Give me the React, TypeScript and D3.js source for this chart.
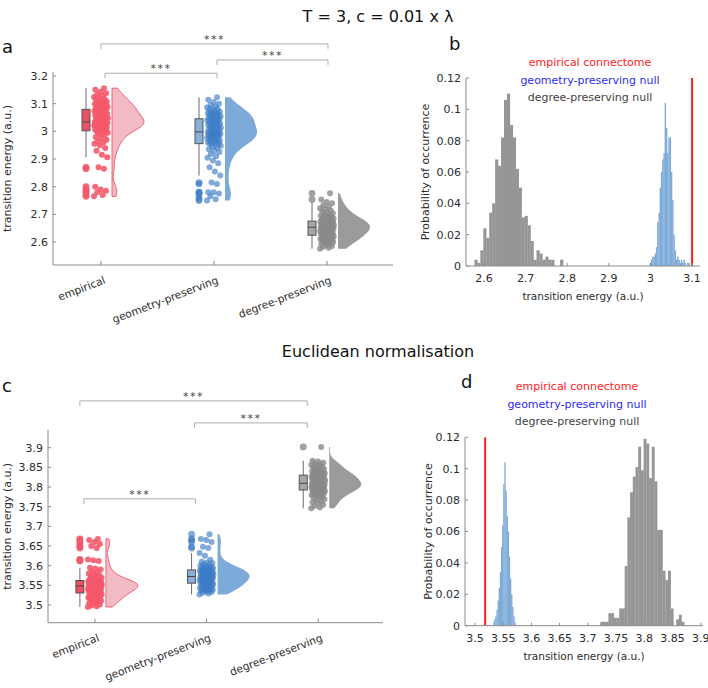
import React from 'react';
import * as d3 from 'd3';

const FONT = '"DejaVu Sans", Verdana, sans-serif';
const CATEGORIES = ['empirical', 'geometry-preserving', 'degree-preserving'];
const LEGEND = ['empirical connectome', 'geometry-preserving null', 'degree-preserving null'];

// panel a, T = 3, c = 0.01 x lambda
const EMPIRICAL_A = [
  2.765, 2.77, 2.78, 2.785, 2.79, 2.8, 2.865, 2.87, 2.906, 2.915, 2.93, 2.94, 2.95, 2.955, 2.96, 2.965,
  2.97, 2.975, 2.98, 2.985, 2.99, 2.995, 2.998, 2.999,
  3.003, 3.005, 3.007, 3.009, 3.011, 3.013, 3.015, 3.016, 3.018, 3.019, 3.021, 3.022, 3.024, 3.025,
  3.026, 3.027, 3.028, 3.029, 3.03, 3.031, 3.032, 3.032, 3.033, 3.033,
  3.035, 3.037, 3.039, 3.041, 3.043, 3.044, 3.046, 3.048, 3.05, 3.052, 3.054, 3.055, 3.057, 3.059,
  3.061, 3.063, 3.065, 3.067, 3.069, 3.071, 3.073, 3.075, 3.077, 3.079,
  3.081, 3.083, 3.085, 3.087, 3.089, 3.091, 3.093, 3.095, 3.097, 3.099, 3.101, 3.104, 3.107, 3.11,
  3.113, 3.116, 3.12, 3.124, 3.128, 3.133, 3.138, 3.143, 3.15, 3.156,
];
const GEOMETRY_A = [
  2.75, 2.755, 2.765, 2.775, 2.78, 2.78, 2.81, 2.815, 2.84, 2.855, 2.87, 2.885, 2.895, 2.905, 2.91, 2.918,
  2.925, 2.93, 2.935, 2.94, 2.944, 2.948, 2.951, 2.954,
  2.956, 2.958, 2.96, 2.962, 2.964, 2.966, 2.968, 2.97, 2.972, 2.974, 2.976, 2.978, 2.98, 2.982,
  2.984, 2.986, 2.988, 2.989, 2.99, 2.991, 2.993, 2.994, 2.996, 2.997,
  2.999, 3.001, 3.003, 3.005, 3.007, 3.009, 3.011, 3.013, 3.015, 3.017, 3.019, 3.021, 3.023, 3.025,
  3.027, 3.029, 3.031, 3.033, 3.035, 3.037, 3.039, 3.041, 3.043, 3.045,
  3.047, 3.049, 3.051, 3.053, 3.055, 3.057, 3.059, 3.061, 3.063, 3.065, 3.067, 3.069, 3.071, 3.074,
  3.077, 3.08, 3.083, 3.086, 3.09, 3.095, 3.1, 3.106, 3.114, 3.123,
];
const DEGREE_A = [
  2.576, 2.579, 2.583, 2.586, 2.589, 2.592, 2.595, 2.598, 2.6, 2.602, 2.604, 2.606, 2.608, 2.61, 2.611,
  2.613, 2.614, 2.616, 2.617, 2.618, 2.619, 2.62, 2.622, 2.623,
  2.625, 2.626, 2.628, 2.629, 2.631, 2.632, 2.634, 2.635, 2.637, 2.638, 2.639, 2.641, 2.642, 2.643,
  2.644, 2.645, 2.646, 2.647, 2.648, 2.649, 2.65, 2.651, 2.652, 2.653,
  2.654, 2.655, 2.656, 2.657, 2.658, 2.659, 2.66, 2.661, 2.662, 2.663, 2.664, 2.665, 2.666, 2.667,
  2.668, 2.669, 2.67, 2.671, 2.672, 2.672, 2.673, 2.674, 2.674, 2.675,
  2.677, 2.679, 2.681, 2.683, 2.685, 2.687, 2.689, 2.691, 2.693, 2.695, 2.698, 2.701, 2.704, 2.707,
  2.71, 2.714, 2.718, 2.722, 2.727, 2.733, 2.74, 2.745, 2.754, 2.776,
];
const TICKS_A = [2.6, 2.7, 2.8, 2.9, 3, 3.1, 3.2];

// panel c, Euclidean normalisation
const EMPIRICAL_C = [
  3.495, 3.497, 3.499, 3.501, 3.503, 3.505, 3.507, 3.509, 3.511, 3.513, 3.514, 3.516, 3.517, 3.519,
  3.52, 3.521, 3.522, 3.523, 3.524, 3.525, 3.526, 3.527, 3.528, 3.529,
  3.531, 3.532, 3.533, 3.534, 3.535, 3.536, 3.537, 3.537, 3.538, 3.539, 3.54, 3.54, 3.541, 3.542,
  3.542, 3.543, 3.544, 3.544, 3.545, 3.546, 3.546, 3.547, 3.547, 3.548,
  3.549, 3.549, 3.55, 3.55, 3.551, 3.552, 3.552, 3.553, 3.553, 3.554, 3.555, 3.555, 3.556, 3.556,
  3.557, 3.558, 3.558, 3.559, 3.559, 3.56, 3.56, 3.561, 3.561, 3.562,
  3.563, 3.564, 3.565, 3.567, 3.569, 3.571, 3.573, 3.575, 3.577, 3.58, 3.583, 3.586, 3.59, 3.593,
  3.595, 3.612, 3.614, 3.616, 3.645, 3.65, 3.655, 3.66, 3.665, 3.668,
];
const GEOMETRY_C = [
  3.527, 3.529, 3.531, 3.533, 3.535, 3.536, 3.537, 3.538, 3.539, 3.54, 3.541, 3.542, 3.543, 3.544,
  3.545, 3.546, 3.547, 3.548, 3.549, 3.55, 3.551, 3.552, 3.553, 3.554,
  3.556, 3.556, 3.557, 3.558, 3.559, 3.559, 3.56, 3.561, 3.562, 3.562, 3.563, 3.564, 3.565, 3.565,
  3.566, 3.567, 3.567, 3.568, 3.569, 3.569, 3.57, 3.571, 3.571, 3.572,
  3.573, 3.573, 3.574, 3.575, 3.576, 3.576, 3.577, 3.578, 3.579, 3.579, 3.58, 3.581, 3.582, 3.582,
  3.583, 3.584, 3.585, 3.585, 3.586, 3.587, 3.587, 3.588, 3.588, 3.589,
  3.59, 3.591, 3.592, 3.593, 3.594, 3.595, 3.596, 3.597, 3.598, 3.6, 3.602, 3.604, 3.606, 3.608,
  3.61, 3.615, 3.625, 3.632, 3.645, 3.648, 3.66, 3.665, 3.668, 3.68,
];
const DEGREE_C = [
  3.746, 3.748, 3.752, 3.755, 3.758, 3.761, 3.764, 3.767, 3.769, 3.771, 3.773, 3.775, 3.777, 3.779,
  3.78, 3.782, 3.783, 3.785, 3.786, 3.787, 3.788, 3.789, 3.79, 3.791,
  3.793, 3.793, 3.794, 3.795, 3.796, 3.796, 3.797, 3.798, 3.799, 3.799, 3.8, 3.801, 3.802, 3.802,
  3.803, 3.804, 3.804, 3.805, 3.806, 3.806, 3.807, 3.808, 3.808, 3.809,
  3.81, 3.811, 3.812, 3.812, 3.813, 3.814, 3.815, 3.816, 3.817, 3.817, 3.818, 3.819, 3.82, 3.821,
  3.822, 3.823, 3.824, 3.825, 3.826, 3.827, 3.827, 3.828, 3.829, 3.83,
  3.831, 3.832, 3.833, 3.834, 3.835, 3.836, 3.837, 3.838, 3.839, 3.84, 3.842, 3.844, 3.846, 3.848,
  3.85, 3.852, 3.854, 3.856, 3.858, 3.86, 3.862, 3.865, 3.867, 3.902,
];
const TICKS_C = [3.5, 3.55, 3.6, 3.65, 3.7, 3.75, 3.8, 3.85, 3.9];

// panel b histograms (probability per bin)
const DEG_HIST_B_START = 2.577;
const DEG_HIST_B_BIN = 0.0071;
const DEG_HIST_B = [
  0.004, 0.002, 0.01, 0.024, 0.018, 0.034, 0.04, 0.068, 0.064, 0.082, 0.106, 0.11, 0.09, 0.082, 0.062,
  0.05, 0.031, 0.032, 0.026, 0.016, 0.004, 0.01, 0.008, 0.004, 0.006, 0.004, 0.004, 0, 0, 0.004,
];
const GEO_HIST_B_START = 2.998;
const GEO_HIST_B_BIN = 0.003;
const GEO_HIST_B = [
  0.002, 0.004, 0.006, 0.006, 0.008, 0.012, 0.028, 0.034, 0.05, 0.06, 0.068, 0.072, 0.104, 0.088, 0.072,
  0.082, 0.082, 0.06, 0.042, 0.02, 0.01, 0.004, 0.006, 0.004, 0.002, 0.004, 0.002, 0.004, 0.002, 0,
  0.002, 0.002,
];
const EMPIRICAL_B = 3.1;
const TICKS_B = [2.6, 2.7, 2.8, 2.9, 3, 3.1];

// panel d histograms
const DEG_HIST_D_START = 3.722;
const DEG_HIST_D_BIN = 0.0048;
const DEG_HIST_D = [
  0.0025, 0.0025, 0.0025, 0.008, 0.008, 0.005, 0.005, 0.011, 0.011, 0.038, 0.069, 0.085, 0.095, 0.101,
  0.114, 0.099, 0.119, 0.116, 0.094, 0.114, 0.092, 0.061, 0.061, 0.035, 0.029, 0.035, 0.011, 0, 0.004,
  0.007, 0.0025,
];
const GEO_HIST_D_START = 3.532;
const GEO_HIST_D_BIN = 0.002;
const GEO_HIST_D = [
  0.002, 0.004, 0.006, 0.01, 0.016, 0.024, 0.034, 0.05, 0.064, 0.09, 0.104, 0.086, 0.07, 0.06, 0.044,
  0.03, 0.02, 0.012, 0.006, 0.002,
];
const EMPIRICAL_D = 3.518;
const TICKS_D = [3.5, 3.55, 3.6, 3.65, 3.7, 3.75, 3.8, 3.85, 3.9];
const PROB_TICKS = [0, 0.02, 0.04, 0.06, 0.08, 0.1, 0.12];

const STYLES = [
  { point: '#f4596a', pointOpacity: 0.9, box: '#ec5062', violin: '#f2bac4', violinStroke: '#f45c6c' },
  { point: '#3d7cc6', pointOpacity: 0.65, box: '#88afdc', violin: '#7eaad9', violinStroke: 'none' },
  { point: '#8a8a8a', pointOpacity: 0.8, box: '#a6a6a6', violin: '#9b9b9b', violinStroke: 'none' },
];
const AXIS = '#8c8c8c';
const TEXT = '#2b2b2b';

const fmt = (v: number) => String(+v.toFixed(3));
const jitter = (i: number) => ((i * 0.6180339887) % 1) - 0.5;

function boxStats(vals: number[]) {
  const s = [...vals].sort(d3.ascending);
  const q1 = d3.quantile(s, 0.25) as number;
  const med = d3.quantile(s, 0.5) as number;
  const q3 = d3.quantile(s, 0.75) as number;
  const iqr = q3 - q1;
  const lo = q1 - 1.5 * iqr;
  const hi = q3 + 1.5 * iqr;
  const inside = s.filter((v) => v >= lo && v <= hi);
  return {
    q1, med, q3,
    wLo: d3.min(inside) as number,
    wHi: d3.max(inside) as number,
    outliers: s.filter((v) => v < lo || v > hi),
  };
}

function density(vals: number[], bw: number, n = 80): [number, number][] {
  const [lo, hi] = d3.extent(vals) as [number, number];
  return d3.range(n + 1).map((i) => {
    const t = lo + ((hi - lo) * i) / n;
    return [t, d3.mean(vals, (v) => Math.exp(-0.5 * ((t - v) / bw) ** 2)) as number];
  });
}

type Bracket = { a: number; b: number; offA: number; offB: number; level: number };

function Raincloud(props: {
  groups: number[][];
  ticks: number[];
  yDomain: [number, number];
  frame: { left: number; right: number; top: number; bottom: number };
  xlim: [number, number];
  brackets: Bracket[];
  bw: number;
  letter: string;
  letterPos: [number, number];
  ylabelX: number;
}) {
  const { groups, ticks, yDomain, frame, xlim, brackets, bw, letter, letterPos, ylabelX } = props;
  const x = d3.scaleLinear().domain(xlim).range([frame.left, frame.right]);
  const y = d3.scaleLinear().domain(yDomain).range([frame.bottom, frame.top]);
  const violinW = 32;

  return (
    <g fontFamily={FONT}>
      <text x={letterPos[0]} y={letterPos[1]} fontSize={18} fill="#111">{letter}</text>
      {groups.map((vals, gi) => {
        const cx = x(gi);
        const st = STYLES[gi];
        const dens = density(vals, bw);
        const maxD = d3.max(dens, (d) => d[1]) as number;
        const x0 = cx + 11;
        const area = d3.area<[number, number]>()
          .y((d) => y(d[0]))
          .x0(x0)
          .x1((d) => x0 + (d[1] / maxD) * violinW)
          .curve(d3.curveBasis);
        const b = boxStats(vals);
        const bx = cx - 15;
        return (
          <g key={gi}>
            <path d={area(dens) + 'Z'} fill={st.violin} stroke={st.violinStroke} strokeWidth={1} />
            {vals.map((v, i) => (
              <circle key={i} cx={cx + jitter(i) * 14} cy={y(v)} r={3} fill={st.point} fillOpacity={st.pointOpacity} />
            ))}
            <line x1={bx} x2={bx} y1={y(b.wLo)} y2={y(b.wHi)} stroke="#6b6b6b" strokeWidth={1} />
            <rect x={bx - 4} width={8} y={y(b.q3)} height={y(b.q1) - y(b.q3)} fill={st.box} stroke="#555" strokeWidth={1} />
            <line x1={bx - 4} x2={bx + 4} y1={y(b.med)} y2={y(b.med)} stroke="#444" strokeWidth={1} />
            {b.outliers.map((v, i) => (
              <circle key={'o' + i} cx={bx} cy={y(v)} r={3.4} fill={st.point} fillOpacity={st.pointOpacity} />
            ))}
          </g>
        );
      })}
      {/* axes */}
      <line x1={frame.left} x2={frame.left} y1={frame.top} y2={frame.bottom} stroke={AXIS} />
      <line x1={frame.left} x2={frame.right} y1={frame.bottom} y2={frame.bottom} stroke={AXIS} />
      {ticks.map((t) => (
        <g key={t}>
          <line x1={frame.left} x2={frame.left + 3} y1={y(t)} y2={y(t)} stroke={AXIS} />
          <text x={frame.left - 5} y={y(t)} dy="0.35em" textAnchor="end" fontSize={11} fill={TEXT}>{fmt(t)}</text>
        </g>
      ))}
      {CATEGORIES.map((c, i) => (
        <g key={c}>
          <line x1={x(i)} x2={x(i)} y1={frame.bottom} y2={frame.bottom - 4} stroke={AXIS} />
          <text transform={`translate(${x(i) + 5},${frame.bottom + 18}) rotate(-21)`} textAnchor="end" fontSize={10.7} fill={TEXT}>{c}</text>
        </g>
      ))}
      <text transform={`translate(${ylabelX},${(frame.top + frame.bottom) / 2}) rotate(-90)`} textAnchor="middle" fontSize={11} fill={TEXT}>
        transition energy (a.u.)
      </text>
      {brackets.map((br, i) => {
        const xa = x(br.a) + br.offA;
        const xb = x(br.b) + br.offB;
        const yy = y(br.level);
        return (
          <g key={i}>
            <path d={`M${xa},${yy + 5}V${yy}H${xb}V${yy + 5}`} fill="none" stroke="#adadad" strokeWidth={1} />
            <text x={(xa + xb) / 2} y={yy - 1} textAnchor="middle" fontSize={11} letterSpacing={1.5} fill="#444">***</text>
          </g>
        );
      })}
    </g>
  );
}

type Hist = { start: number; bin: number; values: number[]; color: string };

function HistPanel(props: {
  frame: { left: number; right: number; top: number; bottom: number };
  xDomain: [number, number];
  xTicks: number[];
  series: Hist[];
  empirical: number;
  legendX: number;
  legendY: number;
  letter: string;
  letterPos: [number, number];
  ylabelX: number;
}) {
  const { frame, xDomain, xTicks, series, empirical, legendX, legendY, letter, letterPos, ylabelX } = props;
  const x = d3.scaleLinear().domain(xDomain).range([frame.left, frame.right]);
  const y = d3.scaleLinear().domain([0, 0.12]).range([frame.bottom, frame.top]);
  const legendColors = ['#ff1a1a', '#2b2bf5', '#3f3f3f'];
  return (
    <g fontFamily={FONT}>
      <text x={letterPos[0]} y={letterPos[1]} fontSize={18} fill="#111">{letter}</text>
      {LEGEND.map((l, i) => (
        <text key={l} x={legendX} y={legendY + i * 17.5} textAnchor="middle" fontSize={11} fill={legendColors[i]}>{l}</text>
      ))}
      {series.map((s, si) => (
        <g key={si}>
          {s.values.map((v, i) => {
            const xa = x(s.start + i * s.bin);
            const xb = x(s.start + (i + 1) * s.bin);
            return <rect key={i} x={xa} width={xb - xa + 0.2} y={y(v)} height={y(0) - y(v)} fill={s.color} />;
          })}
        </g>
      ))}
      <line x1={x(empirical)} x2={x(empirical)} y1={y(0.12)} y2={y(0)} stroke="#ff1f1f" strokeWidth={2} />
      <line x1={frame.left} x2={frame.left} y1={frame.top} y2={frame.bottom} stroke={AXIS} />
      <line x1={frame.left} x2={frame.right} y1={frame.bottom} y2={frame.bottom} stroke={AXIS} />
      {PROB_TICKS.map((t) => (
        <g key={t}>
          <line x1={frame.left} x2={frame.left + 3} y1={y(t)} y2={y(t)} stroke={AXIS} />
          <text x={frame.left - 5} y={y(t)} dy="0.35em" textAnchor="end" fontSize={11} fill={TEXT}>{fmt(t)}</text>
        </g>
      ))}
      {xTicks.map((t) => (
        <g key={t}>
          <line x1={x(t)} x2={x(t)} y1={frame.bottom} y2={frame.bottom - 3} stroke={AXIS} />
          <text x={x(t)} y={frame.bottom + 16} textAnchor="middle" fontSize={11} fill={TEXT}>{fmt(t)}</text>
        </g>
      ))}
      <text x={(frame.left + frame.right) / 2} y={frame.bottom + 34} textAnchor="middle" fontSize={10.5} fill={TEXT}>
        transition energy (a.u.)
      </text>
      <text transform={`translate(${ylabelX},${(frame.top + frame.bottom) / 2}) rotate(-90)`} textAnchor="middle" fontSize={11} fill={TEXT}>
        Probability of occurrence
      </text>
    </g>
  );
}

export default function App() {
  return (
    <svg width={708} height={688} style={{ position: 'absolute', left: 0, top: 0, background: '#fff' }}>
      <text x={378} y={22} textAnchor="middle" fontFamily={FONT} fontSize={16} fill="#111">T = 3, c = 0.01 x λ</text>
      <text x={378} y={357} textAnchor="middle" fontFamily={FONT} fontSize={16} fill="#111">Euclidean normalisation</text>

      <Raincloud
        groups={[EMPIRICAL_A, GEOMETRY_A, DEGREE_A]}
        ticks={TICKS_A}
        yDomain={[2.5169, 3.2145]}
        frame={{ left: 53, right: 393, top: 72, bottom: 265 }}
        xlim={[-0.425, 2.584]}
        bw={0.022}
        brackets={[
          { a: 0, b: 2, offA: 0, offB: 1, level: 3.316 },
          { a: 1, b: 2, offA: 3, offB: 1, level: 3.258 },
          { a: 0, b: 1, offA: 4, offB: 3, level: 3.21 },
        ]}
        letter="a"
        letterPos={[2, 53]}
        ylabelX={11}
      />
      <Raincloud
        groups={[EMPIRICAL_C, GEOMETRY_C, DEGREE_C]}
        ticks={TICKS_C}
        yDomain={[3.455, 3.945]}
        frame={{ left: 48, right: 383, top: 430, bottom: 622.7 }}
        xlim={[-0.42, 2.58]}
        bw={0.011}
        brackets={[
          { a: 0, b: 2, offA: -15, offB: -11, level: 4.019 },
          { a: 1, b: 2, offA: -12, offB: -11, level: 3.963 },
          { a: 0, b: 1, offA: -11, offB: -11, level: 3.77 },
        ]}
        letter="c"
        letterPos={[2, 392]}
        ylabelX={11}
      />
      <HistPanel
        frame={{ left: 466, right: 700, top: 78, bottom: 266 }}
        xDomain={[2.5567, 3.119]}
        xTicks={TICKS_B}
        series={[
          { start: DEG_HIST_B_START, bin: DEG_HIST_B_BIN, values: DEG_HIST_B, color: '#969696' },
          { start: GEO_HIST_B_START, bin: GEO_HIST_B_BIN, values: GEO_HIST_B, color: '#7eabd8' },
        ]}
        empirical={EMPIRICAL_B}
        legendX={590}
        legendY={66}
        letter="b"
        letterPos={[449, 50]}
        ylabelX={429}
      />
      <HistPanel
        frame={{ left: 465, right: 703, top: 437.3, bottom: 625.7 }}
        xDomain={[3.4823, 3.904]}
        xTicks={TICKS_D}
        series={[
          { start: DEG_HIST_D_START, bin: DEG_HIST_D_BIN, values: DEG_HIST_D, color: '#969696' },
          { start: GEO_HIST_D_START, bin: GEO_HIST_D_BIN, values: GEO_HIST_D, color: '#7eabd8' },
        ]}
        empirical={EMPIRICAL_D}
        legendX={577}
        legendY={390}
        letter="d"
        letterPos={[461, 388]}
        ylabelX={432}
      />
    </svg>
  );
}
